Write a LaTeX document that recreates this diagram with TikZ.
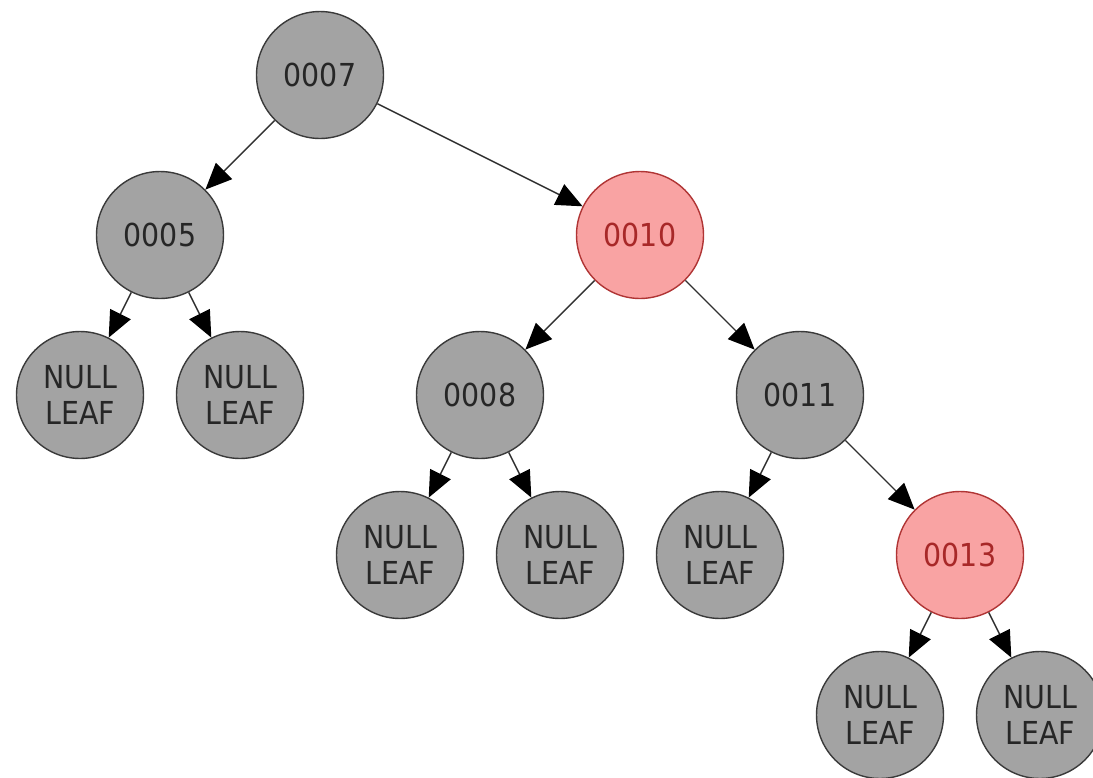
\documentclass[tikz,border=0pt]{standalone}
\usepackage{fontspec}
\setmainfont{DejaVu Sans}[FakeStretch=0.9]
\usepackage{xcolor}
\usepackage{tikz}
\usetikzlibrary{arrows.meta}
\definecolor{nodegray}{HTML}{A3A3A3}
\definecolor{rimgray}{HTML}{3A3A3A}
\definecolor{redfill}{HTML}{F9A3A3}
\definecolor{redrim}{HTML}{B03535}
\definecolor{redtext}{HTML}{A82828}
\definecolor{edgeink}{HTML}{303030}

\begin{document}
\begin{tikzpicture}[x=0.02cm,y=-0.02cm,
  black/.style={circle,draw=rimgray,fill=nodegray,line width=0.8pt,
    minimum size=2.54cm,inner sep=0pt,align=center,
    font=\fontsize{18}{20}\selectfont,text=black!85},
  redkey/.style={black,draw=redrim,fill=redfill,text=redtext},
  leaf/.style={black},
  edge/.style={-{Triangle[length=15pt,width=13pt,color=black]},line width=0.8pt,draw=edgeink}
]
\useasboundingbox (0,0) rectangle (1093,778);

\node[black] (n7) at (320,75) {0007};
\node[black] (n5) at (160,235) {0005};
\node[redkey] (n10) at (640,235) {0010};
\node[leaf] (l5a) at (80,395) {NULL\\LEAF};
\node[leaf] (l5b) at (240,395) {NULL\\LEAF};
\node[black] (n8) at (480,395) {0008};
\node[black] (n11) at (800,395) {0011};
\node[leaf] (l8a) at (400,555) {NULL\\LEAF};
\node[leaf] (l8b) at (560,555) {NULL\\LEAF};
\node[leaf] (l11a) at (720,555) {NULL\\LEAF};
\node[redkey] (n13) at (960,555) {0013};
\node[leaf] (l13a) at (880,715) {NULL\\LEAF};
\node[leaf] (l13b) at (1040,715) {NULL\\LEAF};

\draw[edge] (n7) -- (n5);
\draw[edge] (n7) -- (n10);
\draw[edge] (n5) -- (l5a);
\draw[edge] (n5) -- (l5b);
\draw[edge] (n10) -- (n8);
\draw[edge] (n10) -- (n11);
\draw[edge] (n8) -- (l8a);
\draw[edge] (n8) -- (l8b);
\draw[edge] (n11) -- (l11a);
\draw[edge] (n11) -- (n13);
\draw[edge] (n13) -- (l13a);
\draw[edge] (n13) -- (l13b);
\end{tikzpicture}
\end{document}
